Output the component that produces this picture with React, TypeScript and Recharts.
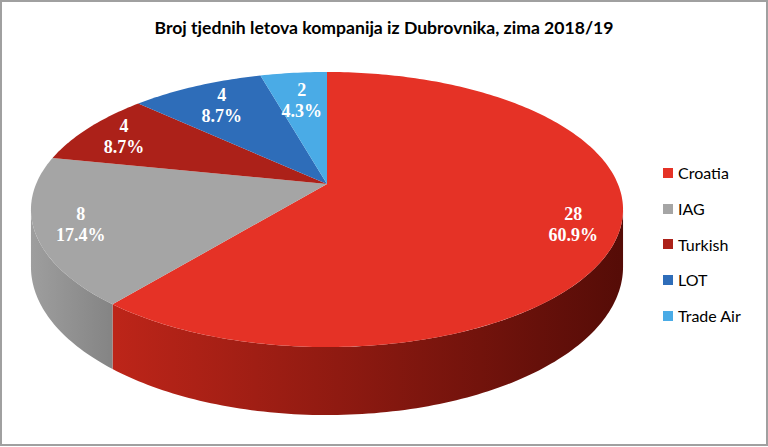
import React from 'react';
import { PieChart, Pie, Cell, Legend } from 'recharts';

const title = 'Broj tjednih letova kompanija iz Dubrovnika, zima 2018/19';
const categories = ['Croatia', 'IAG', 'Turkish', 'LOT', 'Trade Air'];
const flights = [28, 8, 4, 4, 2];
const topColors = ['#e53226', '#a5a5a5', '#ac2119', '#2e6db9', '#4aabe6'];
const wallLightColors = ['#bd2519', '#9e9e9e', '#8a1a13', '#245895', '#3b8bbb'];
const wallDarkColors = ['#550c07', '#848484', '#5a0e09', '#173a63', '#28607f'];

const data = categories.map((name, i) => ({ name, value: flights[i] }));

// perspective projection parameters (relative to the pie's outerRadius)
const SX = 2.909;
const SY = 1.328;
const P = 0.1855;
const DEPTH = 0.554;
const ASIN_P = (Math.asin(P) * 180) / Math.PI;
const FRONT_HI = -ASIN_P;
const FRONT_LO = -180 + ASIN_P;

function project(cx: number, cy: number, R: number, deg: number, r = 1) {
  const t = (deg * Math.PI) / 180;
  const u = r * Math.cos(t);
  const v = r * Math.sin(t);
  const w = 1 + P * v;
  return { x: cx + (SX * R * u) / w, y: cy - (SY * R * v) / w, w };
}

function arcPoints(cx: number, cy: number, R: number, from: number, to: number, drop = false) {
  const n = Math.max(2, Math.ceil(Math.abs(to - from)));
  const pts: string[] = [];
  for (let k = 0; k <= n; k++) {
    const a = from + ((to - from) * k) / n;
    const p = project(cx, cy, R, a);
    const y = drop ? p.y + (DEPTH * R) / p.w : p.y;
    pts.push(`${p.x.toFixed(2)},${y.toFixed(2)}`);
  }
  return pts;
}

const Sector3D = (props: any) => {
  const { cx, cy, outerRadius, startAngle, endAngle, index } = props;
  const i = typeof index === 'number' ? index : categories.indexOf(props.name ?? props.payload?.name);
  const R = outerRadius;
  const top = arcPoints(cx, cy, R, startAngle, endAngle);
  const topPath = `M${cx},${cy} L${top.join(' L')} Z`;
  const s = Math.max(startAngle, endAngle);
  const e = Math.min(startAngle, endAngle);
  const hi = Math.min(s, FRONT_HI);
  const lo = Math.max(e, FRONT_LO);
  let wall = null;
  if (hi > lo) {
    const upper = arcPoints(cx, cy, R, hi, lo);
    const lower = arcPoints(cx, cy, R, lo, hi, true);
    const d = `M${upper.join(' L')} L${lower.join(' L')} Z`;
    const x1 = project(cx, cy, R, lo).x;
    const x2 = project(cx, cy, R, hi).x;
    const gid = `wall-grad-${i}`;
    const a = Math.min(x1, x2);
    const b = Math.max(x1, x2);
    wall = (
      <g>
        <defs>
          <linearGradient id={gid} gradientUnits="userSpaceOnUse" x1={a} y1={0} x2={b} y2={0}>
            <stop offset="0%" stopColor={wallLightColors[i]} />
            <stop offset="100%" stopColor={wallDarkColors[i]} />
          </linearGradient>
        </defs>
        <path d={d} fill={`url(#${gid})`} stroke="none" />
      </g>
    );
  }
  return (
    <g>
      {wall}
      <path d={topPath} fill={topColors[i]} stroke="none" />
    </g>
  );
};

const renderLabel = (props: any) => {
  const { cx, cy, outerRadius, midAngle, value, percent } = props;
  const c = Math.abs(Math.cos((midAngle * Math.PI) / 180));
  const r = 0.7 + 0.16 * c;
  const p = project(cx, cy, outerRadius, midAngle, r);
  const pct = `${(percent * 100).toFixed(1)}%`;
  return (
    <text
      textAnchor="middle"
      fill="#ffffff"
      fontFamily="'Liberation Serif', 'Times New Roman', serif"
      fontWeight="bold"
      fontSize={18}
    >
      <tspan x={p.x} y={p.y - 4}>{value}</tspan>
      <tspan x={p.x} y={p.y + 17}>{pct}</tspan>
    </text>
  );
};

const LegendContent = () => (
  <div style={{ fontFamily: 'Lato, sans-serif', fontSize: 16, color: '#000' }}>
    {categories.map((name, i) => (
      <div key={name} style={{ display: 'flex', alignItems: 'center', height: 35.7 }}>
        <span style={{ display: 'inline-block', width: 10, height: 10, background: topColors[i], marginRight: 5 }} />
        <span>{name}</span>
      </div>
    ))}
  </div>
);

export default function App() {
  return (
    <div
      style={{
        position: 'absolute',
        left: 0,
        top: 0,
        width: 768,
        height: 447,
        background: '#fff',
      }}
    >
      <div
        style={{
          position: 'absolute',
          left: 0,
          top: 0,
          width: 768,
          height: 446,
          boxSizing: 'border-box',
          border: '2px solid #a0a0a0',
          pointerEvents: 'none',
          zIndex: 2,
        }}
      />
      <div
        style={{
          position: 'absolute',
          left: 0,
          top: 16,
          width: 768,
          textAlign: 'center',
          fontFamily: 'Lato, sans-serif',
          fontWeight: 'bold',
          fontSize: 17.6,
          color: '#000',
          lineHeight: '24px',
          zIndex: 1,
        }}
      >
        {title}
      </div>
      <PieChart width={768} height={447} margin={{ top: 0, right: 0, bottom: 0, left: 0 }}>
        <Pie
          data={data}
          dataKey="value"
          nameKey="name"
          cx={327}
          cy={184}
          outerRadius={100}
          startAngle={90}
          endAngle={-270}
          stroke="none"
          isAnimationActive={false}
          shape={Sector3D}
          label={renderLabel}
          labelLine={false}
        >
          {data.map((d, i) => (
            <Cell key={d.name} fill={topColors[i]} />
          ))}
        </Pie>
        <Legend
          layout="vertical"
          align="right"
          verticalAlign="top"
          content={LegendContent}
          wrapperStyle={{ left: 663, top: 155, width: 100 }}
        />
      </PieChart>
    </div>
  );
}
